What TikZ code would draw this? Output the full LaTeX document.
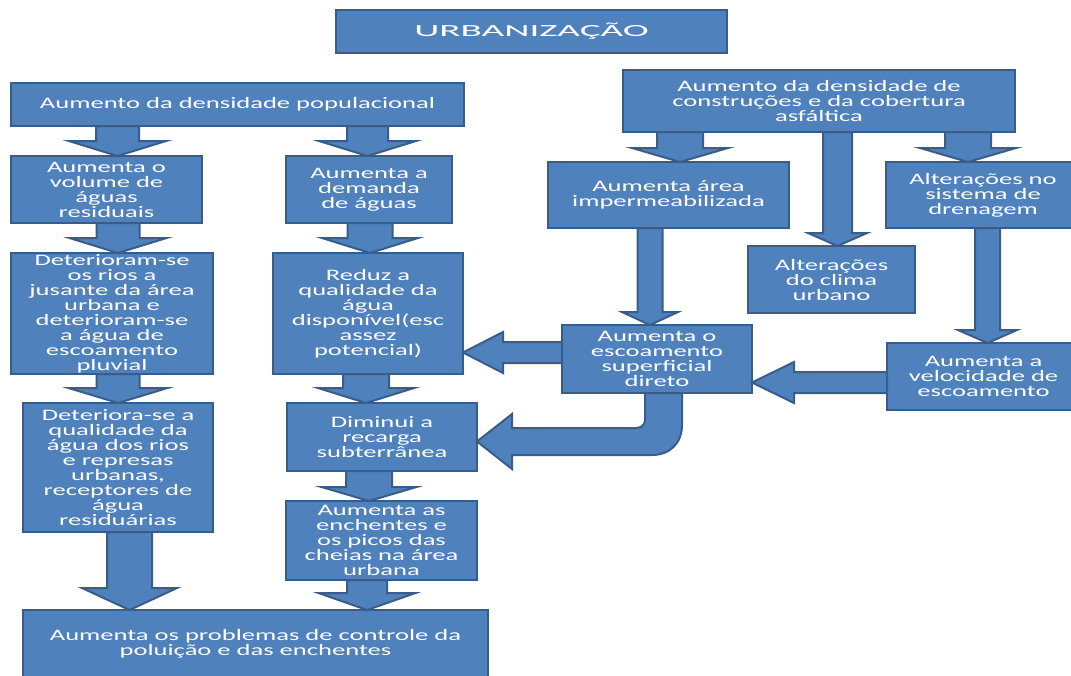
\documentclass[tikz,border=0pt]{standalone}
\usepackage{fontspec}
\usetikzlibrary{calc}
\newfontfamily\boxfont{Carlito}[FakeStretch=1.66]
\newfontfamily\titlefont{Carlito}[FakeStretch=2.3]
\definecolor{boxfill}{HTML}{4F81BD}
\definecolor{boxline}{HTML}{385D8A}
\tikzset{
  box/.style={draw=boxline, fill=boxfill, line width=2.2pt, text=white,
    align=center, inner sep=0pt, outer sep=0pt,
    font={\boxfont\fontsize{16pt}{15pt}\selectfont}},
  blockarrow/.style={draw=boxline, fill=boxfill, line width=2pt, line join=miter}
}
% downward block arrow: from node, to node, centre x, shaft half width, head half width, head length
\newcommand\downblock[6]{%
  \path[blockarrow] let \p1=(#1.south), \p2=(#2.north) in
    (#3pt-#4pt,\y1) -- (#3pt+#4pt,\y1) -- (#3pt+#4pt,\y2+#6pt) -- (#3pt+#5pt,\y2+#6pt)
    -- (#3pt,\y2) -- (#3pt-#5pt,\y2+#6pt) -- (#3pt-#4pt,\y2+#6pt) -- cycle;}
% leftward block arrow: from node, to node, centre y, shaft half width, head half width, head length
\newcommand\leftblock[6]{%
  \path[blockarrow] let \p1=(#1.west), \p2=(#2.east) in
    (\x1,-#3pt+#4pt) -- (\x2+#6pt,-#3pt+#4pt) -- (\x2+#6pt,-#3pt+#5pt) -- (\x2,-#3pt)
    -- (\x2+#6pt,-#3pt-#5pt) -- (\x2+#6pt,-#3pt-#4pt) -- (\x1,-#3pt-#4pt) -- cycle;}
\begin{document}
\begin{tikzpicture}[x=1pt,y=-1pt]
\useasboundingbox (0,0) rectangle (1071,675);
\fill[white] (0,0) rectangle (1071,675);
\clip (0,0) rectangle (1071,675);

% title
\node[box, minimum width=391, minimum height=43, font={\titlefont\fontsize{17pt}{17pt}\selectfont}]
  (urb) at (531.5,31.5) {URBANIZAÇÃO};

% left half: population
\node[box, minimum width=453, minimum height=43] (pop) at (237.5,104.5) {Aumento da densidade populacional};
\node[box, minimum width=191, minimum height=67] (vol) at (106.5,189.5) {Aumenta o\\volume de\\águas\\residuais};
\node[box, minimum width=166, minimum height=67] (dem) at (369,189.5) {Aumenta a\\demanda\\de águas};
\node[box, minimum width=202, minimum height=121] (det) at (112,313.5)
  {Deterioram-se\\os rios a\\jusante da área\\urbana e\\deterioram-se\\a água de\\escoamento\\pluvial};
\node[box, minimum width=190, minimum height=121] (red) at (368,313.5)
  {Reduz a\\qualidade da\\água\\disponível(esc\\assez\\potencial)};
\node[box, minimum width=190, minimum height=129] (deta) at (118,467.5)
  {Deteriora-se a\\qualidade da\\água dos rios\\e represas\\urbanas,\\receptores de\\água\\residuárias};
\node[box, minimum width=190, minimum height=68] (dim) at (382,437) {Diminui a\\recarga\\subterrânea};
\node[box, minimum width=191, minimum height=79] (ench) at (381.5,540.5)
  {Aumenta as\\enchentes e\\os picos das\\cheias na área\\urbana};
\node[box, minimum width=465, minimum height=68] (prob) at (255.5,644)
  {Aumenta os problemas de controle da\\poluição e das enchentes};

% right half: buildings and paving
\node[box, minimum width=392, minimum height=62] (constr) at (819,101)
  {Aumento da densidade de\\construções e da cobertura\\asfáltica};
\node[box, minimum width=241, minimum height=66] (imp) at (668.5,195) {Aumenta área\\impermeabilizada};
\node[box, minimum width=194, minimum height=66] (dren) at (983,195) {Alterações no\\sistema de\\drenagem};
\node[box, minimum width=167, minimum height=67] (clima) at (831.5,279.5) {Alterações\\do clima\\urbano};
\node[box, minimum width=190, minimum height=68] (esc) at (657,359) {Aumenta o\\escoamento\\superficial\\direto};
\node[box, minimum width=193, minimum height=67] (vel) at (983.5,376.5) {Aumenta a\\velocidade de\\escoamento};

% vertical block arrows
\downblock{pop}{vol}{117.5}{21.5}{48.5}{15}
\downblock{pop}{dem}{367.5}{20.5}{48.5}{15}
\downblock{vol}{det}{118}{21.5}{48.5}{15}
\downblock{dem}{red}{370}{22.5}{48}{15}
\downblock{det}{deta}{118}{21.5}{49.5}{15}
\downblock{red}{dim}{366}{23}{48}{15}
\downblock{dim}{ench}{369}{23}{47.5}{14}
\downblock{ench}{prob}{367}{20}{48.5}{17}
\downblock{deta}{prob}{129.5}{22.5}{47.5}{22}
\downblock{constr}{imp}{680}{23}{48}{14}
\downblock{constr}{clima}{837.5}{14.5}{29.5}{13}
\downblock{constr}{dren}{968}{23}{48}{14}
\downblock{imp}{esc}{650}{12.5}{28}{13}
\downblock{dren}{vel}{987.5}{12.5}{29.5}{13}

% horizontal block arrows
\leftblock{esc}{red}{352.5}{10.5}{20.5}{40}
\leftblock{vel}{esc}{382.5}{10.5}{20.5}{42}

% bent arrow from the runoff box to the recharge box
\path[blockarrow] let \p1=(esc.south), \p2=(dim.east) in
  (645pt,\y1) -- (645pt,-420pt) .. controls (645pt,-425pt) and (641pt,-428pt) .. (636pt,-428pt)
  -- (512pt,-428pt) -- (512pt,-414pt) -- (\x2,-441.5pt) -- (512pt,-469pt) -- (512pt,-455pt)
  -- (652pt,-455pt) .. controls (670pt,-455pt) and (682pt,-443pt) .. (682pt,-425pt)
  -- (682pt,\y1) -- cycle;
\end{tikzpicture}
\end{document}
